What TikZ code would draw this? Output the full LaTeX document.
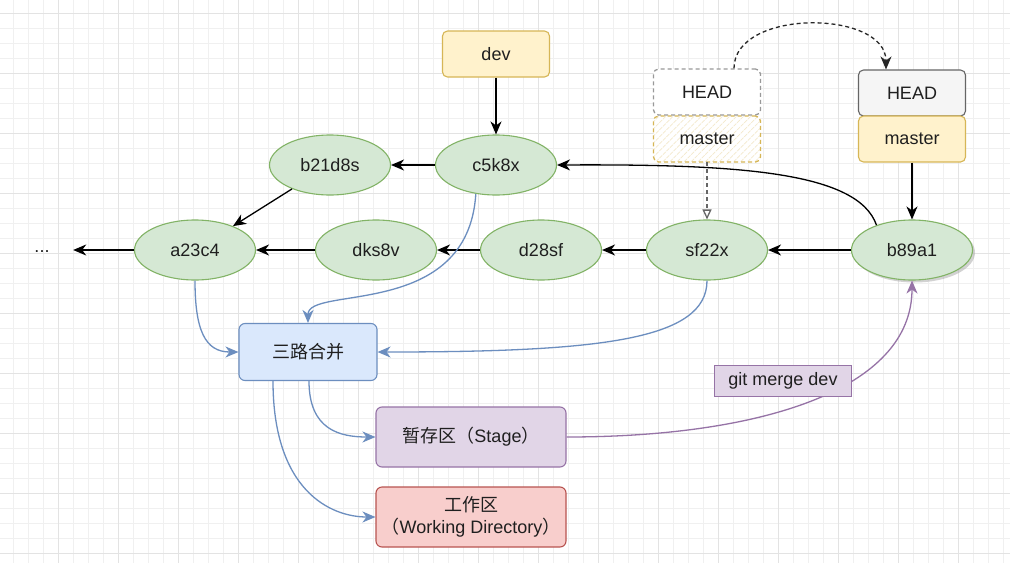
\documentclass[tikz,border=0pt]{standalone}
\usepackage{fontspec}
\setmainfont{Liberation Sans}
\newfontfamily\cjk{Noto Sans CJK SC}
\usetikzlibrary{arrows.meta,shapes.geometric,shadows,patterns.meta}
\definecolor{fgreen}{HTML}{D5E8D4}\definecolor{cgreen}{HTML}{82B366}
\definecolor{fyellow}{HTML}{FFF2CC}\definecolor{cyellow}{HTML}{D6B656}
\definecolor{fgrey}{HTML}{F5F5F5}\definecolor{cgrey}{HTML}{666666}
\definecolor{fblue}{HTML}{DAE8FC}\definecolor{cblue}{HTML}{6C8EBF}
\definecolor{fpurple}{HTML}{E1D5E7}\definecolor{cpurple}{HTML}{9673A6}
\definecolor{fred}{HTML}{F8CECC}\definecolor{cred}{HTML}{B85450}

\begin{document}
\begin{tikzpicture}[x=1pt,y=-1pt,
	every node/.style={font=\fontsize{18}{22}\selectfont,text=black!88},
	minorline/.style={draw=black!6,line width=0.8pt},
	majorline/.style={draw=black!11,line width=1pt},
	commit/.style={ellipse,draw=cgreen,fill=fgreen,line width=1.1pt,minimum width=121pt,minimum height=60pt,inner sep=0pt},
	ref/.style={rectangle,rounded corners=5pt,line width=1.1pt,minimum width=107pt,minimum height=46pt,inner sep=0pt},
	stagebox/.style={rectangle,rounded corners=6pt,line width=1.1pt,minimum width=190pt,minimum height=60pt,inner sep=0pt,align=center},
	tip/.style={-{Stealth[length=13pt,width=11pt,inset=4pt]}},
	link/.style={tip,line width=1.3pt},
	flow/.style={tip,draw=cblue,line width=1.3pt},
	olddash/.style={line width=1.3pt,dash pattern=on 4pt off 3pt},
]
	\useasboundingbox (0,0) rectangle (1010,563);
	\fill[white] (0,0) rectangle (1010,563);
	\foreach \x in {13,28,...,1003} \draw[minorline] (\x,0) -- (\x,563);
	\foreach \y in {13,28,...,553} \draw[minorline] (0,\y) -- (1010,\y);
	\foreach \x in {58,118,...,958} \draw[majorline] (\x,0) -- (\x,563);
	\foreach \y in {13,73,...,553} \draw[majorline] (0,\y) -- (1010,\y);

	\node[minimum width=62pt] (dots) at (42,252) {...};
	\foreach \n/\x in {a23c4/195,dks8v/376,d28sf/541,sf22x/707}
		\node[commit] (\n) at (\x,250) {\n};
	\node[commit,drop shadow={shadow xshift=2.5pt,shadow yshift=-2.5pt,fill=black!35}] (b89a1) at (912,250) {b89a1};
	\node[commit] (b21d8s) at (330,165) {b21d8s};
	\node[commit] (c5k8x) at (496,165) {c5k8x};

	\node[ref,draw=cyellow,fill=fyellow] (dev) at (496,54) {dev};
	\node[ref,draw=black!40,fill=white,olddash] (headold) at (707,92) {HEAD};
	\node[ref,draw=cyellow,olddash,preaction={fill=white},pattern={Lines[angle=45,distance=5pt,line width=0.7pt]},pattern color=cyellow!30] (masterold) at (707,139) {};
	\node at (masterold) {master};
	\node[ref,draw=cgrey,fill=fgrey] (headnew) at (912,93) {HEAD};
	\node[ref,draw=cyellow,fill=fyellow] (masternew) at (912,139) {master};

	\node[rectangle,rounded corners=6pt,draw=cblue,fill=fblue,line width=1.1pt,minimum width=138pt,minimum height=57pt] (merge) at (308,352) {\cjk 三路合并};
	\node[stagebox,draw=cpurple,fill=fpurple] (stage) at (471,437) {{\cjk 暂存区（}Stage{\cjk ）}};
	\node[stagebox,draw=cred,fill=fred] (work) at (471,517) {{\cjk 工作区}\\{\cjk （}Working Directory{\cjk ）}};

	\draw[link] (dev) -- (c5k8x);
	\draw[link] (c5k8x) -- (b21d8s);
	\draw[link] (b21d8s) -- (a23c4);
	\draw[link] (b89a1) -- (sf22x);
	\draw[link] (sf22x) -- (d28sf);
	\draw[link] (d28sf) -- (dks8v);
	\draw[link] (dks8v) -- (a23c4);
	\draw[link] (a23c4) -- (dots.east|-a23c4);
	\draw[link] (b89a1.145) .. controls (858,172) and (740,164) .. (c5k8x.east);
	\draw[link] (masternew) -- (b89a1);
	\draw[olddash,draw=black!60,-{Triangle[open,length=10pt,width=9pt]}] (masterold) -- (sf22x);
	\draw[olddash,draw=black!85,-{Stealth[length=13pt,width=11pt,inset=4pt]}] ([xshift=27pt]headold.north) .. controls +(0,-60) and +(0,-60) .. ([xshift=-26pt]headnew.north);

	\draw[flow] (a23c4.south) .. controls (195,330) and (205,352) .. (merge.west);
	\draw[flow] (c5k8x.235) .. controls (468,320) and (308,285) .. (merge.north);
	\draw[flow] (sf22x.south) .. controls (707,340) and (600,352) .. (merge.east);
	\draw[flow] ([xshift=1pt]merge.south) .. controls (309,430) and (340,437) .. (stage.west);
	\draw[flow] ([xshift=-35pt]merge.south) .. controls (273,490) and (330,517) .. (work.west);

	\draw[tip,draw=cpurple,line width=1.3pt] (stage.east) .. controls (760,437) and (912,390) .. (b89a1.south);
	\node[rectangle,draw=cpurple,fill=fpurple,line width=1.1pt,minimum width=137pt,minimum height=31pt,inner sep=0pt] (mergecmd) at (783,381) {git merge dev};
\end{tikzpicture}
\end{document}
